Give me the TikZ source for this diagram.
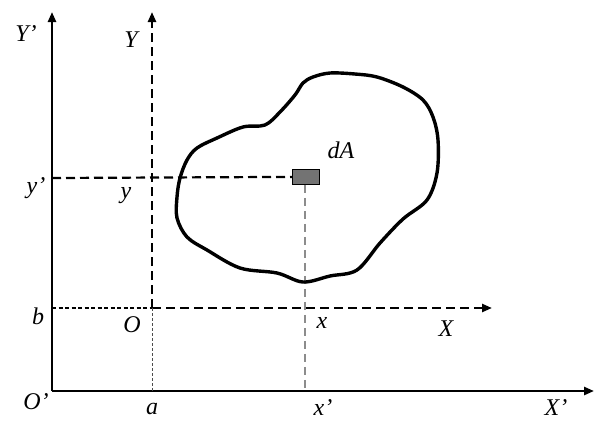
\documentclass[tikz,border=0pt]{standalone}
\usepackage{fontspec}
\setmainfont{Liberation Serif}
\usetikzlibrary{arrows.meta}
\begin{document}
\begin{tikzpicture}[x=1pt,y=-1pt,
  lab/.style={font=\fontsize{24}{26}\selectfont\itshape, inner sep=0pt},
  axis/.style={line width=2.4pt, -{Triangle[length=10pt,width=8pt]}},
  daxis/.style={line width=2.4pt, dash pattern=on 9pt off 5pt, -{Triangle[length=10pt,width=8pt]}},
  fine/.style={line width=1.2pt, dash pattern=on 4pt off 2.5pt},
  dotv/.style={line width=0.9pt, dash pattern=on 3pt off 2pt, black!70},
  grayd/.style={line width=1.1pt, dash pattern=on 8pt off 5pt, black!45},
  ydash/.style={line width=2.2pt, dash pattern=on 9pt off 5pt},
  blob/.style={line width=3.4pt, line join=round}]
\useasboundingbox (0,0) rectangle (596,421);
% coordinates
\coordinate (Op) at (52,391);
\coordinate (Ytip) at (52,12);
\coordinate (Xtip) at (594,391);
\coordinate (O) at (152,308);
\coordinate (Ytip2) at (152,12);
\coordinate (Xtip2) at (492,308);
\coordinate (bpt) at (52,308);
\coordinate (apt) at (152,391);
\coordinate (yp) at (52,178);
\coordinate (xpt) at (305,391);
% dA element
\node[draw=black, line width=0.8pt, fill=black!55, minimum width=27pt, minimum height=15pt, inner sep=0pt, anchor=north west] (dA) at (292,169) {};
% axes
\draw[axis] (Op) -- (Ytip);
\draw[axis] (Op) -- (Xtip);
\draw[daxis] (O) -- (Ytip2);
\draw[daxis] (O) -- (Xtip2);
\draw[fine] (bpt) -- (O);
\draw[dotv] (O) -- (apt);
\draw[ydash] (yp) -- (dA.west);
\draw[grayd] (dA.south -| xpt) -- (xpt);
% region
\draw[blob] plot[smooth cycle, tension=0.55] coordinates {
 (177,197) (180,178) (187,160) (197,148) (217,138) (243,127) (265,125)
 (280,112) (295,95) (303,83) (313,77) (330,73) (355,74) (377,77) (403,87)
 (423,100) (433,117) (438,140) (437,173) (427,200) (403,219) (380,243)
 (357,270) (330,276) (303,282) (277,273) (240,268) (207,250) (187,237) (177,218)};
% labels
\node[lab] (lYp) at (26,34) {Y’};
\node[lab] (lY) at (131,40) {Y};
\node[lab] (lyp) at (36,188) {y’};
\node[lab] (ly) at (126,196) {y};
\node[lab] (lb) at (38,316) {b};
\node[lab] (lO) at (132,325) {O};
\node[lab] (lOp) at (36,402) {O’};
\node[lab] (la) at (152,409) {a};
\node[lab] (lx) at (322,323) {x};
\node[lab] (lX) at (446,329) {X};
\node[lab] (lxp) at (323,408) {x’};
\node[lab] (lXp) at (556,408) {X’};
\node[lab] (ldA) at (341,150) {dA};
\end{tikzpicture}
\end{document}
